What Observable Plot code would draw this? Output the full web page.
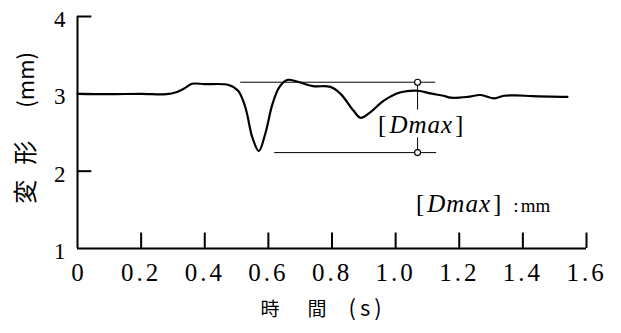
<!DOCTYPE html>
<html>
<head>
<meta charset="utf-8">
<script src="https://cdn.jsdelivr.net/npm/d3@7"></script>
<script src="https://cdn.jsdelivr.net/npm/@observablehq/plot@0.6"></script>
<style>
  html, body { margin: 0; padding: 0; background: #fff; }
  #chart svg { display: block; }
</style>
</head>
<body>
<div id="chart"></div>
<script>
// Time (s) and deformation (mm)
const time = [0, 0.1, 0.2, 0.28, 0.31, 0.34, 0.36, 0.40, 0.475, 0.505, 0.528, 0.55, 0.57, 0.59, 0.613, 0.635, 0.66, 0.69, 0.74, 0.795, 0.827, 0.868, 0.89, 0.92, 0.962, 1.016, 1.07, 1.11, 1.15, 1.173, 1.226, 1.267, 1.31, 1.34, 1.38, 1.43, 1.54];
const deform = [3.0, 2.995, 3.0, 2.995, 3.02, 3.08, 3.13, 3.125, 3.115, 3.04, 2.82, 2.43, 2.26, 2.48, 2.87, 3.09, 3.18, 3.16, 3.10, 3.09, 3.0, 2.78, 2.69, 2.76, 2.91, 3.02, 3.04, 3.005, 2.975, 2.95, 2.96, 2.985, 2.94, 2.975, 2.98, 2.97, 2.96];

// Axis ticks and labels
const xTicks = [0, 0.2, 0.4, 0.6, 0.8, 1.0, 1.2, 1.4, 1.6];
const xTickLabels = ["0", "0.2", "0.4", "0.6", "0.8", "1.0", "1.2", "1.4", "1.6"];
const yTicks = [1, 2, 3, 4];
const yTickLabels = ["1", "2", "3", "4"];

// Titles
const xTitleParts = ["時", "間", "(s)"];
const yTitleParts = ["変", "形", "(mm)"];

// Dmax annotation values
const dmaxTop = 3.15;
const dmaxBottom = 2.24;
const dmaxTime = 1.069;
const upperLineRange = [0.513, 1.126];
const lowerLineRange = [0.62, 1.129];
const gapRange = [2.79, 2.43];

const curve = time.map((t, i) => ({t, v: deform[i]}));

const serif = "'Liberation Serif', 'DejaVu Serif', serif";
const cjk = "'Noto Sans CJK JP', sans-serif";

const plot = Plot.plot({
  width: 621,
  height: 333,
  marginLeft: 77,
  marginRight: 35,
  marginTop: 16,
  marginBottom: 85,
  x: {domain: [0, 1.6], axis: null},
  y: {domain: [1, 4], axis: null},
  style: {background: "#fff", color: "#000", fontFamily: serif},
  marks: [
    // axes lines
    Plot.ruleX([0], {y1: 1, y2: 4, stroke: "#000", strokeWidth: 2}),
    Plot.ruleY([1], {x1: 0, x2: 1.6, stroke: "#000", strokeWidth: 2}),
    // inward ticks
    Plot.ruleX(xTicks.filter(d => d > 0), {y1: 1, y2: 1.2, stroke: "#000", strokeWidth: 2}),
    Plot.ruleY(yTicks.filter(d => d > 1), {x1: 0, x2: 0.045, stroke: "#000", strokeWidth: 2}),
    // tick labels
    Plot.text(xTicks, {x: d => d, y: 1, text: (d, i) => xTickLabels[i], dy: 24, fontSize: 25, fill: "#000", fontFamily: serif}),
    Plot.text(yTicks, {x: 0, y: d => d, text: (d, i) => yTickLabels[i], dx: -12, dy: 3, textAnchor: "end", fontSize: 23, fill: "#000", fontFamily: serif}),
    // Dmax annotation lines
    Plot.ruleY([dmaxTop], {x1: upperLineRange[0], x2: upperLineRange[1], stroke: "#000", strokeWidth: 1}),
    Plot.ruleY([dmaxBottom], {x1: lowerLineRange[0], x2: lowerLineRange[1], stroke: "#000", strokeWidth: 1}),
    Plot.ruleX([dmaxTime], {y1: dmaxTop, y2: gapRange[0], stroke: "#000", strokeWidth: 1}),
    Plot.ruleX([dmaxTime], {y1: gapRange[1], y2: dmaxBottom, stroke: "#000", strokeWidth: 1}),
    // the curve
    Plot.line(curve, {x: "t", y: "v", curve: "catmull-rom", stroke: "#000", strokeWidth: 2.2}),
    Plot.dot([dmaxTop, dmaxBottom], {x: dmaxTime, y: d => d, r: 3, stroke: "#000", fill: "#fff", strokeWidth: 1.2}),
    // labels
    Plot.text(["[Dmax]"], {x: 1.079, y: 2.60, fontSize: 25, fill: "#000", fontFamily: serif}),
    Plot.text(["[Dmax] :mm"], {x: 1.064, y: 1.57, textAnchor: "start", fontSize: 25, fill: "#000", fontFamily: serif}),
    // axis titles
    Plot.text([xTitleParts.join(" ")], {x: 0.575, frameAnchor: "bottom", dy: 67, textAnchor: "start", fontSize: 19, fill: "#000", fontFamily: cjk}),
    Plot.text([yTitleParts.join(" ")], {frameAnchor: "left", y: 1.58, dx: -51, rotate: -90, textAnchor: "start", fontSize: 24, fill: "#000", fontFamily: cjk})
  ]
});

const svg = d3.select(plot);
function dmaxSpans(el) {
  el.append("tspan").text("[");
  el.append("tspan").attr("font-style", "italic").attr("dx", 3).attr("letter-spacing", 1).text("Dmax");
  el.append("tspan").attr("dx", 2).text("]");
}
svg.selectAll("text").each(function() {
  const el = d3.select(this);
  const s = el.text();
  if (s === "[Dmax]") {
    el.text(null);
    dmaxSpans(el);
  } else if (s === "[Dmax] :mm") {
    el.text(null);
    dmaxSpans(el);
    el.append("tspan").attr("dx", 12).attr("font-size", 19).text(":");
    el.append("tspan").attr("dx", 2).attr("font-size", 19).text("mm");
  } else if (s === xTitleParts.join(" ")) {
    el.text(null);
    el.append("tspan").text(xTitleParts[0]);
    el.append("tspan").attr("dx", 28).text(xTitleParts[1]);
    el.append("tspan").attr("dx", 22).attr("font-size", 22).attr("letter-spacing", 4).text(xTitleParts[2]);
  } else if (s === yTitleParts.join(" ")) {
    el.text(null);
    el.append("tspan").text(yTitleParts[0]);
    el.append("tspan").attr("dx", 15).text(yTitleParts[1]);
    el.append("tspan").attr("dx", 33).attr("font-size", 22).text(yTitleParts[2]);
  } else if (/^\d\.\d$/.test(s)) {
    el.attr("letter-spacing", 3);
  }
});

document.getElementById("chart").appendChild(plot);
</script>
</body>
</html>
